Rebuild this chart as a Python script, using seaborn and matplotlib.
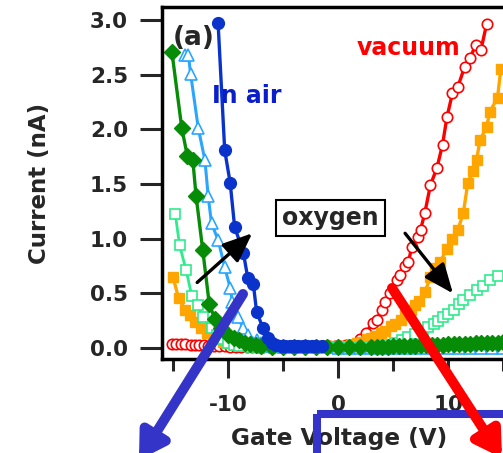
import matplotlib
matplotlib.use("Agg")
import matplotlib.pyplot as plt
from matplotlib.patches import FancyArrowPatch, Rectangle
from matplotlib.transforms import Affine2D
from matplotlib.ticker import FixedLocator, FormatStrFormatter
import pandas as pd
import seaborn as sns

# Transfer curves: gate voltage (V) vs drain current (nA)
V_vac = [-15.1, -14.7, -14.3, -13.9, -13.4, -13.0, -12.6, -12.2, -11.8, -11.3,
         -10.8, -10.3, -9.8, -9.3, -8.8, -8.3, -7.8, -7.3, -6.8, -6.3,
         -5.8, -5.3, -4.8, -4.3, -3.8, -3.3, -2.8, -2.3, -1.8, -1.3,
         -0.8, -0.3, 0.2, 0.7, 1.2, 1.6, 2.0, 2.5, 3.2, 3.5,
         4.0, 4.3, 4.7, 5.4, 5.6, 6.1, 6.4, 6.7, 7.3, 7.5,
         7.9, 8.4, 9.0, 9.5, 9.9, 10.4, 10.9, 11.5, 12.0, 12.5,
         13.0, 13.5]
I_vac = [0.04, 0.04, 0.035, 0.035, 0.03, 0.03, 0.03, 0.025, 0.02, 0.02,
         0.015, 0.015, 0.01, 0.01, 0.01, 0.01, 0.01, 0.01, 0.01, 0.01,
         0.01, 0.01, 0.01, 0.01, 0.01, 0.01, 0.01, 0.01, 0.01, 0.015,
         0.015, 0.02, 0.02, 0.025, 0.03, 0.04, 0.08, 0.14, 0.23, 0.26,
         0.35, 0.42, 0.50, 0.62, 0.67, 0.75, 0.79, 0.92, 1.02, 1.08,
         1.24, 1.49, 1.65, 1.86, 2.11, 2.33, 2.39, 2.57, 2.65, 2.77,
         2.73, 2.96]

V_org = [-15.0, -14.5, -13.9, -13.5, -13.0, -12.5, -11.9, -11.4, -10.9, -10.5,
         -10.0, -9.5, -9.0, -8.5, -8.0, -7.5, -7.0, -6.5, -6.0, -5.5,
         -5.0, -4.5, -4.0, -3.5, -3.0, -2.5, -2.0, -1.5, -1.0, -0.5,
         -0.1, 0.3, 0.8, 1.2, 1.7, 2.1, 2.6, 3.0, 3.4, 3.9,
         4.3, 4.8, 5.2, 5.7, 6.1, 6.6, 7.0, 7.4, 7.9, 8.4,
         8.8, 9.3, 9.9, 10.4, 10.9, 11.4, 11.8, 12.3, 12.6, 12.9,
         13.5, 13.8, 14.5, 14.8]
I_org = [0.65, 0.46, 0.35, 0.30, 0.24, 0.18, 0.14, 0.10, 0.08, 0.06,
         0.05, 0.04, 0.03, 0.03, 0.02, 0.02, 0.02, 0.02, 0.02, 0.02,
         0.02, 0.02, 0.02, 0.02, 0.02, 0.02, 0.02, 0.02, 0.02, 0.01,
         0.01, 0.01, 0.02, 0.03, 0.05, 0.06, 0.08, 0.09, 0.11, 0.14,
         0.16, 0.20, 0.22, 0.26, 0.30, 0.35, 0.39, 0.43, 0.51, 0.65,
         0.73, 0.79, 0.91, 1.00, 1.08, 1.24, 1.51, 1.62, 1.72, 1.90,
         2.02, 2.16, 2.29, 2.55]

V_sqo = [-14.8, -14.4, -13.8, -13.3, -12.7, -12.3, -11.5, -11.0, -10.5, -10.0,
         -9.5, -9.0, -8.0, -7.0, -6.0, -5.0, -4.0, -3.0, -2.0, -1.0,
         0.0, 1.0, 2.0, 3.0, 4.0, 4.6, 5.2, 5.8, 6.4, 7.0,
         7.7, 8.2, 8.7, 9.1, 9.5, 10.0, 10.5, 11.0, 11.4, 12.0,
         12.6, 13.2, 13.8, 14.5]
I_sqo = [1.23, 0.94, 0.71, 0.48, 0.39, 0.28, 0.18, 0.12, 0.08, 0.05,
         0.03, 0.02, 0.01, 0.01, 0.01, 0.01, 0.01, 0.01, 0.01, 0.01,
         0.01, 0.01, 0.01, 0.01, 0.02, 0.03, 0.05, 0.07, 0.10, 0.13,
         0.16, 0.19, 0.22, 0.25, 0.28, 0.31, 0.35, 0.40, 0.44, 0.49,
         0.53, 0.57, 0.62, 0.66]

V_dia = [-15.1, -14.2, -13.7, -13.2, -12.9, -12.3, -11.7, -11.2, -10.6, -10.0,
         -9.5, -9.0, -8.5, -8.0, -7.5, -7.0, -6.0, -5.0, -4.0, -3.0,
         -2.0, -1.0, 0.0, 1.0, 2.0, 3.0, 3.5, 4.0, 4.5, 5.0,
         5.5, 6.0, 6.5, 7.0, 7.5, 8.0, 8.5, 9.0, 9.5, 10.0,
         10.5, 11.0, 11.5, 12.0, 12.5, 13.0, 13.5, 14.0, 14.5, 15.0,
         15.5]
I_dia = [2.71, 2.01, 1.76, 1.72, 1.39, 0.90, 0.40, 0.27, 0.18, 0.12,
         0.09, 0.07, 0.05, 0.04, 0.03, 0.02, 0.01, 0.01, 0.01, 0.01,
         0.01, 0.01, 0.01, 0.01, 0.01, 0.01, 0.01, 0.01, 0.01, 0.015,
         0.015, 0.02, 0.02, 0.02, 0.025, 0.025, 0.03, 0.03, 0.03, 0.035,
         0.035, 0.04, 0.04, 0.04, 0.045, 0.045, 0.05, 0.05, 0.05, 0.055,
         0.055]

V_tri = [-13.9, -13.6, -13.4, -12.7, -12.1, -11.8, -11.5, -10.9, -10.3, -9.8,
         -9.6, -9.1, -8.6, -8.2, -7.4, -7.0, -6.5, -6.0, -5.0, -4.0,
         -3.0, -2.0, -1.0, 0.0, 1.0, 2.0, 3.0, 4.0, 5.0, 6.0,
         7.0, 8.0, 9.0, 10.0, 11.0, 12.0, 13.0, 14.0, 15.0]
I_tri = [2.68, 2.68, 2.51, 2.01, 1.72, 1.39, 1.14, 0.99, 0.74, 0.55,
         0.42, 0.28, 0.18, 0.12, 0.07, 0.05, 0.03, 0.02, 0.01, 0.01,
         0.01, 0.01, 0.01, 0.0, 0.0, 0.0, 0.0, 0.0, 0.0, 0.0,
         0.0, 0.0, 0.0, 0.0, 0.0, 0.0, 0.0, 0.0, 0.0]

V_air = [-10.9, -10.3, -9.8, -9.4, -8.6, -8.2, -7.7, -7.4, -6.8, -6.4,
         -6.0, -5.6, -5.2, -4.8, -4.4, -4.0, -3.6, -3.2, -2.8, -2.4,
         -2.0, -1.5]
I_air = [2.97, 1.81, 1.51, 1.11, 0.87, 0.64, 0.59, 0.33, 0.18, 0.09,
         0.05, 0.03, 0.02, 0.02, 0.02, 0.02, 0.02, 0.02, 0.02, 0.02,
         0.02, 0.02]

y_ticks = [0.0, 0.5, 1.0, 1.5, 2.0, 2.5, 3.0]
x_major = [-10, 0, 10]
x_minor = [-15, -5, 5, 15]

sns.set_style("ticks")
plt.rcParams["font.family"] = ["DejaVu Sans"]
plt.rcParams["font.weight"] = "bold"
plt.rcParams["axes.unicode_minus"] = False

W, H = 503, 453
fig = plt.figure(figsize=(W / 100, H / 100), dpi=100, facecolor="white")
ax = fig.add_axes([162 / W, (H - 359) / H, 352 / W, 352 / H])

curves = [
    (V_vac, I_vac, dict(color="#FF0000", marker="o", markerfacecolor="white",
                        markeredgecolor="#FF0000", markersize=7.5,
                        markeredgewidth=1.2, linewidth=2.4)),
    (V_org, I_org, dict(color="#FFA500", marker="s", markerfacecolor="#FFA500",
                        markeredgecolor="#FFA500", markersize=7.0,
                        markeredgewidth=1.0, linewidth=2.4)),
    (V_sqo, I_sqo, dict(color="#2EEB8C", marker="s", markerfacecolor="white",
                        markeredgecolor="#2EEB8C", markersize=7.0,
                        markeredgewidth=1.2, linewidth=2.0)),
    (V_tri, I_tri, dict(color="#2AA6FF", marker="^", markerfacecolor="white",
                        markeredgecolor="#2AA6FF", markersize=8.0,
                        markeredgewidth=1.2, linewidth=2.2)),
    (V_dia, I_dia, dict(color="#078C07", marker="D", markerfacecolor="#078C07",
                        markeredgecolor="#078C07", markersize=8.0,
                        markeredgewidth=1.0, linewidth=2.4)),
    (V_air, I_air, dict(color="#0A33CC", marker="o", markerfacecolor="#0A33CC",
                        markeredgecolor="#0A33CC", markersize=8.5,
                        markeredgewidth=1.0, linewidth=2.4)),
]
for vx, iy, style in curves:
    df = pd.DataFrame({"V": vx, "I": iy})
    sns.lineplot(data=df, x="V", y="I", ax=ax, estimator=None, sort=False, **style)

ax.set_xlim(-16, 16)
ax.set_ylim(-0.1, 3.12)
ax.xaxis.set_major_locator(FixedLocator(x_major))
ax.xaxis.set_minor_locator(FixedLocator(x_minor))
ax.yaxis.set_major_locator(FixedLocator(y_ticks))
ax.yaxis.set_major_formatter(FormatStrFormatter("%.1f"))
ax.xaxis.set_major_formatter(FormatStrFormatter("%d"))

for side in ["left", "top", "bottom", "right"]:
    ax.spines[side].set_linewidth(2.5)
    ax.spines[side].set_color("black")

ax.tick_params(axis="x", which="major", direction="out", length=13.7, width=2.2,
               pad=12, labelsize=15.5)
ax.tick_params(axis="x", which="minor", direction="out", length=8.6, width=2.2)
ax.tick_params(axis="y", which="major", direction="out", length=15.8, width=2.2,
               pad=8.6, labelsize=15.5)

ax.set_xlabel("Gate Voltage (V)", fontsize=16.7, fontweight="bold")
ax.xaxis.set_label_coords(0.503, -0.193)
ax.set_ylabel("Current (nA)", fontsize=16.5, fontweight="bold")
ax.yaxis.set_label_coords(-0.315, 0.5)

# labels inside the panel
ax.text(-15.0, 2.955, "(a)", fontsize=19, fontweight="bold", ha="left", va="top")
ax.text(-11.45, 2.24, "In air", fontsize=17, fontweight="bold", color="#0A1ECC",
        ha="left", va="baseline")
ax.text(1.73, 2.68, "vacuum", fontsize=17, fontweight="bold", color="#FF0000",
        ha="left", va="baseline")
ax.text(-0.68, 1.19, "oxygen", fontsize=17, fontweight="bold", ha="center",
        va="center", bbox=dict(boxstyle="square,pad=0.25", fc="white",
                               ec="black", lw=1.5))

# black arrows showing the shift on oxygen exposure
arrow_kw = dict(arrowstyle="-|>,head_length=0.6,head_width=0.25", color="black",
                lw=2.4, mutation_scale=30, shrinkA=0, shrinkB=0)
ax.annotate("", xy=(-7.8, 1.05), xytext=(-12.8, 0.60), arrowprops=arrow_kw)
ax.annotate("", xy=(10.45, 0.50), xytext=(6.1, 1.05), arrowprops=arrow_kw)

# figure-level callout overlays (pixel units, origin at top-left)
px = Affine2D().scale(1 / W, -1 / H).translate(0, 1) + fig.transFigure

callout_blue = "#3434C8"
big = "-|>,head_length=0.5,head_width=0.3"
fig.add_artist(FancyArrowPatch((243, 294), (139, 460), transform=px,
                               arrowstyle=big, mutation_scale=30, lw=7.2,
                               color=callout_blue, shrinkA=0, shrinkB=0,
                               clip_on=False, zorder=5))
fig.add_artist(FancyArrowPatch((392, 288), (502, 458), transform=px,
                               arrowstyle=big, mutation_scale=30, lw=7.2,
                               color="#FF0000", shrinkA=0, shrinkB=0,
                               clip_on=False, zorder=5))
fig.add_artist(Rectangle((317.5, 413.5), 400, 200, transform=px, fill=False,
                         ec=callout_blue, lw=5.8, clip_on=False, zorder=4))

fig.savefig("out.png", dpi=100, facecolor="white")
